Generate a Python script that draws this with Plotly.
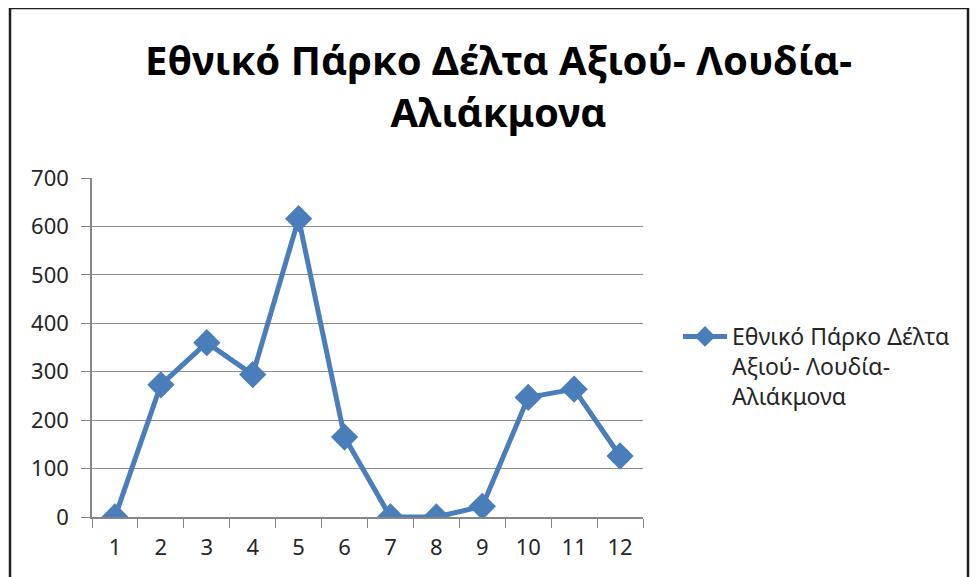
import plotly.graph_objects as go

months = ["1", "2", "3", "4", "5", "6", "7", "8", "9", "10", "11", "12"]
values = [0, 273, 360, 294, 616, 165, 0, 0, 22, 247, 264, 126]
series_name = "Εθνικό Πάρκο Δέλτα<br>Αξιού- Λουδία-<br>Αλιάκμονα"
title_text = "Εθνικό Πάρκο Δέλτα Αξιού- Λουδία-<br>Αλιάκμονα"

blue = "#4A7EBB"
font = "Noto Sans"

fig = go.Figure()
fig.add_trace(go.Scatter(
    x=months, y=values, mode="lines+markers", name=series_name,
    line=dict(color=blue, width=5),
    marker=dict(symbol="diamond", size=21, color=blue),
))

# page body has an 8px margin, so work in shifted pixel coordinates
OFF = 8
W, H = 978 - OFF, 577 - OFF
L, R, T, B = 92 - OFF, 643 - OFF, 178 - OFF, 517 - OFF
pw, ph = R - L, B - T

def px(x):
    return (x - OFF - L) / pw

def py(y):
    return (B - (y - OFF)) / ph

fig.update_layout(
    width=W, height=H,
    margin=dict(l=L, r=W - R, t=T, b=H - B, autoexpand=False),
    paper_bgcolor="white", plot_bgcolor="white",
    font=dict(family=font, size=22, color="#262626"),
    showlegend=True,
    legend=dict(x=px(678), y=py(315), xanchor="left", yanchor="top",
                valign="top", font=dict(size=23, color="#262626"),
                itemwidth=44, tracegroupgap=0),
    xaxis=dict(type="category", range=[-0.5, 11.5], tickson="boundaries",
               ticks="outside", ticklen=9, tickcolor="#868686",
               showline=True, linecolor="#868686", linewidth=1.5,
               showgrid=False, zeroline=False, ticklabelstandoff=10),
    yaxis=dict(range=[0, 700], dtick=100, ticks="outside", ticklen=9,
               tickcolor="#868686", showline=True, linecolor="#868686",
               linewidth=1.5, showgrid=True, gridcolor="#8C8C8C", gridwidth=1.2,
               zeroline=False, ticklabelstandoff=8),
    annotations=[dict(text=title_text, xref="paper", yref="paper",
                      x=px(498), y=py(30), xanchor="center", yanchor="top",
                      showarrow=False,
                      font=dict(family=font, size=40, color="black", weight="bold"))],
    shapes=[dict(type="rect", xref="paper", yref="paper",
                 x0=px(10), x1=px(968), y0=py(600), y1=py(8),
                 line=dict(color="#1E1E1E", width=2.5), layer="above")],
)

fig.write_html("out.html")
